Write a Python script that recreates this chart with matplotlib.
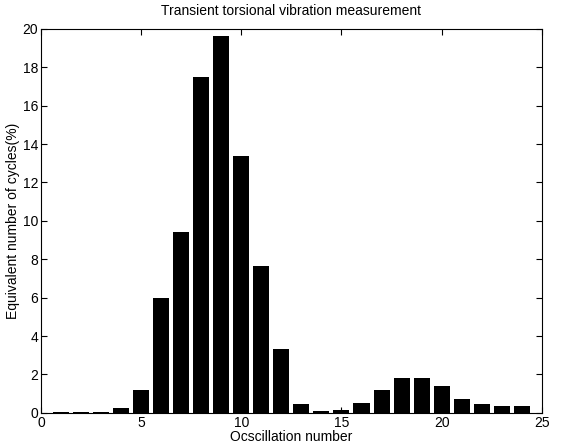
import matplotlib
matplotlib.use("Agg")
import matplotlib.pyplot as plt

plt.rcParams['font.family'] = ['Liberation Sans', 'DejaVu Sans']

osc = list(range(1, 25))
cycles = [0.02, 0.02, 0.05, 0.25, 1.2, 6.0, 9.4, 17.5, 19.6, 13.4, 7.65, 3.35,
          0.45, 0.1, 0.15, 0.5, 1.2, 1.8, 1.8, 1.4, 0.7, 0.45, 0.35, 0.35]

fig = plt.figure(figsize=(5.62, 4.43), dpi=100)
ax = fig.add_axes([0.073, 0.068, 0.891, 0.867])

ax.bar(osc, cycles, width=0.8, color='black')
ax.set_xlim(0, 25)
ax.set_ylim(0, 20)
ax.set_xticks(range(0, 26, 5))
ax.set_yticks(range(0, 21, 2))
ax.tick_params(direction='in', top=True, right=True, labelsize=10, pad=2, length=4)
for s in ax.spines.values():
    s.set_linewidth(0.8)

ax.set_title('Transient torsional vibration measurement', fontsize=10, pad=10)
ax.set_xlabel('Ocscillation number', fontsize=10, labelpad=0)
ax.set_ylabel('Equivalent number of cycles(%)', fontsize=10, labelpad=2)

fig.savefig('out.png', dpi=100)
